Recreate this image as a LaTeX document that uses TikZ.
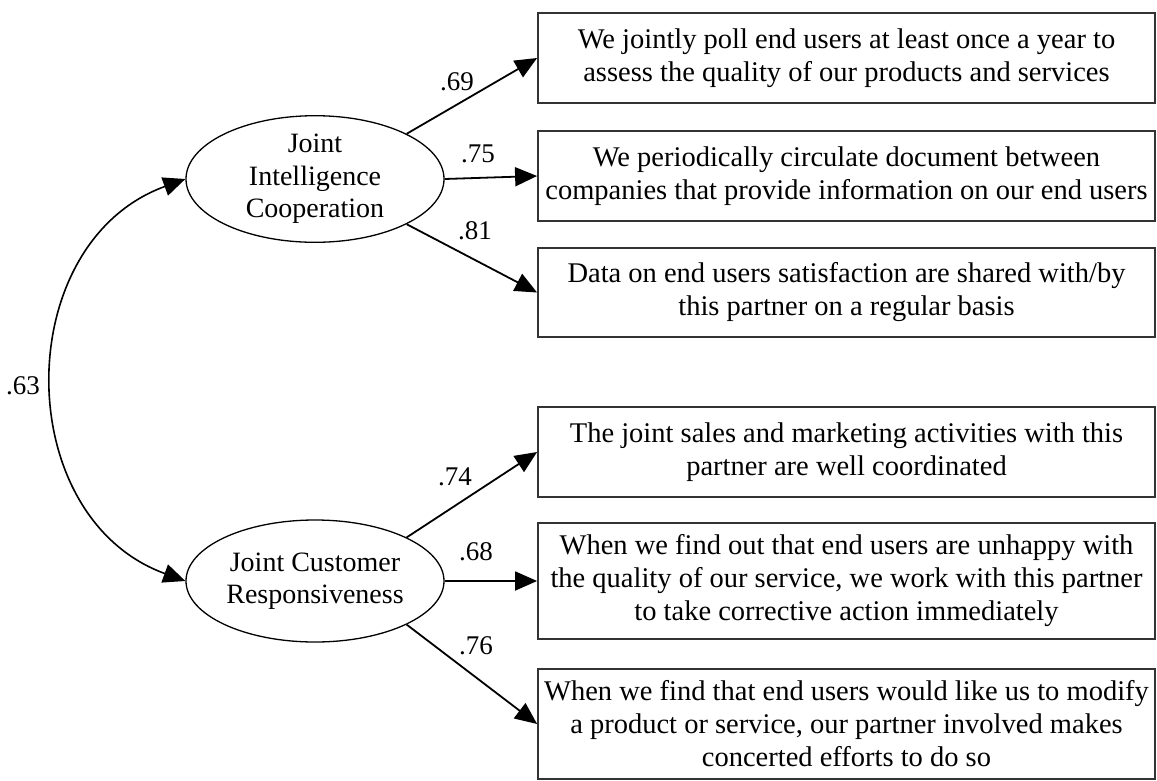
\documentclass[tikz,border=0pt]{standalone}
\usepackage{fontspec}
\setmainfont{Liberation Serif}
\usetikzlibrary{shapes.geometric,arrows.meta}
\begin{document}
\begin{tikzpicture}[x=1pt,y=-1pt,
  itembox/.style={draw=black!80,line width=1.8pt,minimum width=617pt,inner sep=0pt,align=center,
    font=\fontsize{28.5pt}{33pt}\selectfont},
  latent/.style={draw,ellipse,line width=1.3pt,minimum width=258pt,minimum height=122pt,inner sep=0pt,align=center,
    font=\fontsize{28pt}{32.5pt}\selectfont},
  path/.style={line width=1.8pt,-{Triangle[length=22pt,width=19pt]}},
  corr/.style={line width=1.6pt,{Triangle[length=22pt,width=19pt]}-{Triangle[length=22pt,width=19pt]}},
  coef/.style={font=\fontsize{27pt}{30pt}\selectfont,inner sep=0pt}]
\useasboundingbox (0,0) rectangle (1157,780);
\node[latent] (e1) at (315,179) {Joint\\Intelligence\\Cooperation};
\node[latent] (e2) at (315,581) {Joint Customer\\Responsiveness};
\node[itembox,minimum height=90pt] (b1) at (846.5,58) {We jointly poll end users at least once a year to\\assess the quality of our products and services};
\node[itembox,minimum height=90pt] (b2) at (846.5,176) {We periodically circulate document between\\companies that provide information on our end users};
\node[itembox,minimum height=89pt] (b3) at (846.5,292.5) {Data on end users satisfaction are shared with/by\\this partner on a regular basis};
\node[itembox,minimum height=90pt] (b4) at (846.5,452) {The joint sales and marketing activities with this\\partner are well coordinated};
\node[itembox,minimum height=116pt] (b5) at (846.5,581) {When we find out that end users are unhappy with\\the quality of our service, we work with this partner\\to take corrective action immediately};
\node[itembox,minimum height=110pt] (b6) at (846.5,724) {When we find that end users would like us to modify\\a product or service, our partner involved makes\\concerted efforts to do so};
\draw[path] (e1.north east) -- (b1.west);
\draw[path] (e1.east) -- (b2.west);
\draw[path] (e1.south east) -- (b3.west);
\draw[path] (e2.north east) -- (b4.west);
\draw[path] (e2.east) -- (b5.west);
\draw[path] (e2.south east) -- (b6.west);
\draw[corr] (e1.west) to[out=200,in=160,looseness=1.19] (e2.west);
\node[coef] (l1) at (457,82) {.69};
\node[coef] (l2) at (478,154) {.75};
\node[coef] (l3) at (475,231) {.81};
\node[coef] (l4) at (455,477) {.74};
\node[coef] (l5) at (476,552) {.68};
\node[coef] (l6) at (476,646) {.76};
\node[coef] (l7) at (23,386) {.63};
\end{tikzpicture}
\end{document}
